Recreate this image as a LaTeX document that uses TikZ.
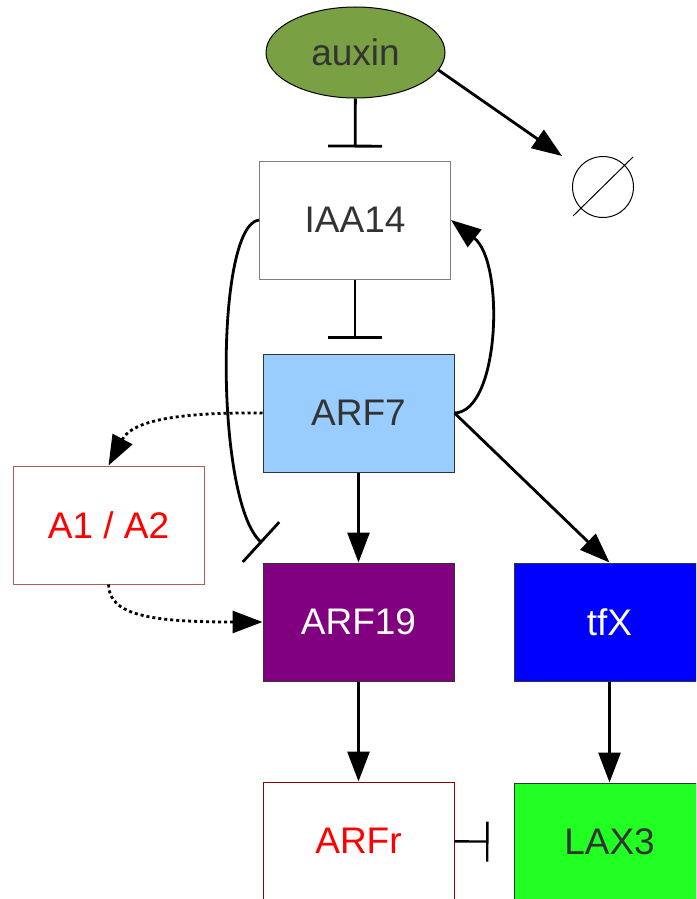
\documentclass[tikz,border=0pt]{standalone}
\usepackage{fontspec}
\setmainfont{Liberation Sans}
\usepackage{xcolor}
\definecolor{auxgreen}{RGB}{122,160,68}
\definecolor{arfblue}{RGB}{153,204,255}
\definecolor{arfpurple}{RGB}{128,0,128}
\definecolor{tfblue}{RGB}{0,0,255}
\definecolor{laxgreen}{RGB}{34,255,34}
\definecolor{txtgray}{RGB}{51,51,51}
\definecolor{boxgray}{RGB}{128,128,128}
\definecolor{boxred}{RGB}{180,90,90}
\definecolor{arfred}{RGB}{139,0,0}
\usetikzlibrary{
  arrows.meta,
  shapes.geometric
}

\begin{document}
\begin{tikzpicture}[x=1pt, y=-1pt,
  gene/.style={rectangle, draw, line width=1pt, minimum width=191pt, minimum height=118pt,
    inner sep=0pt, font=\fontsize{37}{41}\selectfont},
  act/.style={line width=2.8pt, -{Triangle[length=30pt,width=22pt]}},
  inhib/.style={line width=2.8pt, -{Bar[width=54pt]}},
  weak/.style={act, dash pattern=on 3pt off 3pt}]
  \clip (0,0) rectangle (696,899);

  % Signal
  \node[ellipse, draw, line width=1pt, fill=auxgreen, text=txtgray, minimum width=179pt, minimum height=91pt,
    inner sep=0pt, font=\fontsize{37}{41}\selectfont] (auxin) at (355.5,52.5) {auxin};
  \node[circle, draw, line width=1pt, minimum size=61pt, inner sep=0pt] (sink) at (603,187) {};
  \draw[line width=1pt] (573,216) -- (633,157);
  \coordinate (sinkin) at (562,156);

  % Boxes
  \node[gene, draw=boxgray, fill=white, text=txtgray] (iaa) at (355,220) {IAA14};
  \node[gene, draw=txtgray, fill=arfblue, text=txtgray] (arf7) at (358.5,413) {ARF7};
  \node[gene, draw=boxred, fill=white, text=red] (a1a2) at (108.5,525) {A1 / A2};
  \node[gene, draw=txtgray, fill=arfpurple, text=white] (arf19) at (358.5,622) {ARF19};
  \node[gene, draw=txtgray, fill=tfblue, text=white] (tfx) at (609.5,622) {tfX};
  \node[gene, draw=arfred, fill=white, text=red] (arfr) at (358.5,841) {ARFr};
  \node[gene, draw=txtgray, fill=laxgreen, text=txtgray] (lax3) at (609.5,842) {LAX3};
  \coordinate (barend) at (262,543);

  % Connections
  \draw[inhib, shorten >=13pt] (auxin) -- (iaa);
  \draw[act] (auxin.-12) -- (sinkin);
  \draw[inhib, shorten >=15pt] (iaa.south) -- (iaa.south |- arf7.north);
  \draw[inhib] (iaa.west) .. controls (215,225) and (215,500) .. (barend);
  \draw[act] (arf7.east) .. controls (500,412) and (505,262) .. (iaa.east);
  \draw[act] (arf7) -- (arf19);
  \draw[act] (arf7.east) -- (tfx.north);
  \draw[weak] (arf7.west) .. controls (160,412) and (130,425) .. (a1a2.north);
  \draw[weak] (a1a2.south) .. controls (109,615) and (150,622) .. (arf19.west);
  \draw[act] (arf19) -- (arfr);
  \draw[act] (tfx) -- (lax3);
  \draw[line width=2.4pt, -{Bar[width=40pt]}, shorten >=25pt] (arfr) -- (lax3);
\end{tikzpicture}
\end{document}
